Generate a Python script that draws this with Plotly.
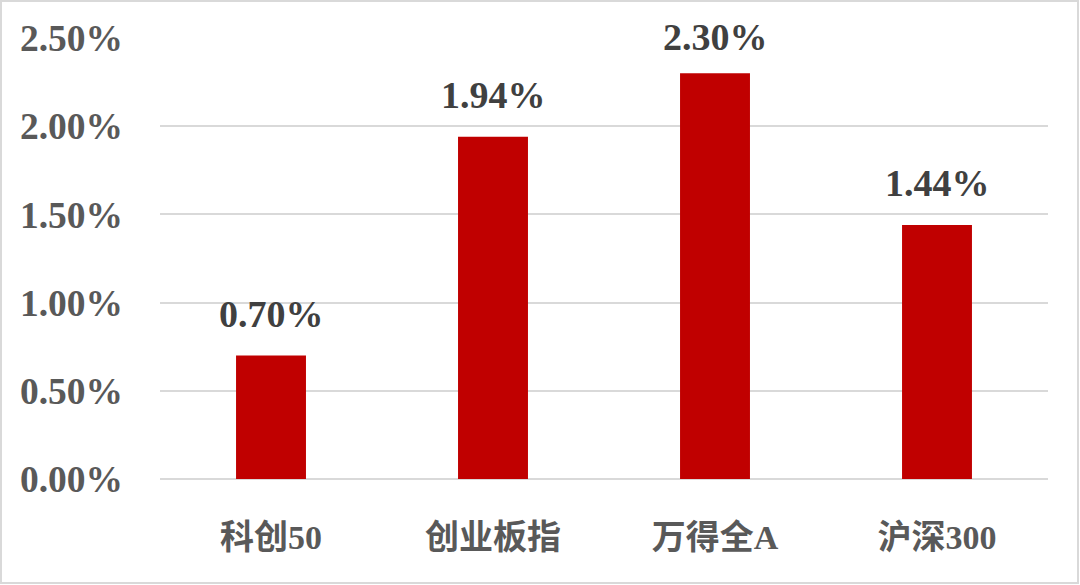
import plotly.graph_objects as go

categories = ["科创50", "创业板指", "万得全A", "沪深300"]
values = [0.70, 1.94, 2.30, 1.44]
y_ticks = [0.0, 0.5, 1.0, 1.5, 2.0, 2.5]

W, H = 1080, 585
ML, MR, MT, MB = 160, 32, 38, 106
pw, ph = W - ML - MR, H - MT - MB
Y_MAX = 2.5

font_fam = "Liberation Serif, 'Noto Sans CJK SC', serif"

fig = go.Figure()
fig.add_trace(go.Bar(
    x=categories, y=values,
    marker=dict(color="#C00000", line=dict(width=0)),
    width=0.315,
    hoverinfo="skip",
))

for c, v in zip(categories, values):
    # labels near the top of the axis get pushed down slightly to stay inside
    shift = 19 if v < 0.88 * Y_MAX else 13
    fig.add_annotation(
        x=c, y=v, text=f"<b>{v:.2f}%</b>", showarrow=False,
        xanchor="center", yanchor="bottom", yshift=shift,
        font=dict(family=font_fam, size=38, color="#404040"),
    )

# outer light border
fig.add_shape(
    type="rect", xref="paper", yref="paper",
    x0=(1 - ML) / pw, x1=(W - 2 - ML) / pw,
    y0=-(MB - 2) / ph, y1=1 + (MT - 1) / ph,
    line=dict(color="#d9d9d9", width=2), layer="below",
)

fig.update_layout(
    width=W, height=H,
    margin=dict(l=ML, r=MR, t=MT, b=MB, pad=0),
    paper_bgcolor="white", plot_bgcolor="white",
    showlegend=False,
    xaxis=dict(
        showgrid=False, showline=False, zeroline=False,
        ticks="", ticklabelstandoff=35,
        tickfont=dict(family=font_fam, size=34, color="#595959", weight="bold"),
    ),
    yaxis=dict(
        range=[0, Y_MAX], tickvals=y_ticks,
        ticktext=[f"{t:.2f}%" for t in y_ticks],
        showgrid=True, gridcolor="#d9d9d9", gridwidth=1.5,
        zeroline=True, zerolinecolor="#d9d9d9", zerolinewidth=1.5,
        showline=False, ticks="", ticklabelstandoff=36,
        tickfont=dict(family=font_fam, size=37.5, color="#595959", weight="bold"),
    ),
)

fig.write_html(
    "out.html",
    config={"displayModeBar": False},
    post_script="document.body.style.margin='0';document.body.style.overflow='hidden';",
)
